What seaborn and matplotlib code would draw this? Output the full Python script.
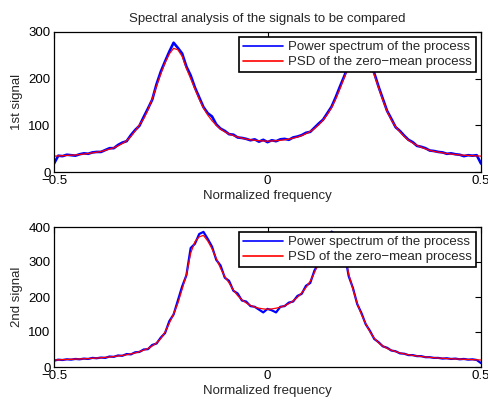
import numpy as np
import pandas as pd
import matplotlib
matplotlib.use("Agg")
import matplotlib.pyplot as plt
import seaborn as sns

# ---------------- data ----------------
freq = np.round(np.linspace(-0.5, 0.5, 101), 2)

psd1 = [34, 34.5, 35, 35.5, 36, 36.5, 37.5, 38.5, 39.5, 41,
        42.5, 44, 46.5, 49, 52, 56, 61, 67, 76, 88,
        101, 114, 133, 157, 184, 210, 234, 253, 265, 262,
        248, 222, 200, 178, 156, 137, 122, 110, 100, 92,
        86, 81.5, 78, 75, 72.5, 70.5, 69, 68, 67, 66.5,
        66,
        66.5, 67, 68, 69, 70.5, 72.5, 75, 78, 82, 87,
        93, 101, 111, 123, 138, 157, 179, 203, 226, 250,
        263, 263, 250, 230, 208, 181, 154, 130, 111, 97,
        86, 76, 68, 62, 57, 53, 49.5, 46.5, 44, 42.5,
        41, 39.5, 38.5, 37.5, 36.5, 36, 35.5, 35, 34.5, 34]

spec1 = [18, 35, 34, 37, 36, 35, 38, 40, 39, 42,
         43, 43, 47, 51, 51, 58, 63, 66, 79, 90,
         99, 118, 136, 155, 188, 215, 237, 258, 277, 266,
         254, 226, 207, 181, 160, 139, 126, 119, 102, 93,
         88, 81, 80, 74, 73, 71, 68, 70, 65, 69,
         64,
         68, 66, 70, 71, 69, 74, 76, 79, 84, 86,
         95, 104, 112, 126, 140, 161, 184, 206, 230, 254,
         270, 268, 254, 233, 212, 183, 157, 131, 114, 96,
         88, 78, 69, 64, 56, 54, 51, 46, 45, 43,
         42, 39, 40, 38, 37, 34, 36, 35, 36, 18]

psd2 = [20, 20.5, 21, 21.5, 22, 22.5, 23, 23.5, 24, 25,
        25.5, 26.5, 27.5, 28.5, 30, 31.5, 33, 35, 37.5, 40,
        44, 48, 53, 60, 69, 81, 100, 125, 152, 182,
        222, 264, 325, 358, 372, 376, 360, 338, 310, 282,
        258, 240, 220, 204, 192, 183, 176, 171, 168, 166,
        165,
        166, 168, 171, 175, 181, 189, 199, 212, 227, 245,
        270, 300, 333, 358, 374, 374, 357, 325, 266, 222,
        182, 150, 124, 100, 82, 69, 60, 53, 48, 44,
        40, 37.5, 35, 33, 31.5, 30, 28.5, 27.5, 26.5, 25.5,
        25, 24, 23.5, 23, 22.5, 22, 21.5, 21, 20.5, 20]

spec2 = [18, 21, 20, 22, 21, 23, 22, 24, 23, 26,
         25, 27, 26, 30, 29, 33, 32, 37, 36, 42,
         43, 50, 51, 63, 67, 84, 97, 131, 150, 190,
         230, 262, 340, 352, 380, 386, 366, 344, 306, 290,
         255, 246, 218, 210, 190, 187, 174, 172, 164, 156,
         166,
         162, 156, 172, 174, 184, 187, 203, 209, 232, 240,
         276, 296, 338, 362, 387, 378, 352, 330, 260, 226,
         180, 154, 122, 103, 80, 71, 59, 55, 47, 45,
         39, 38, 34, 34, 31, 31, 28, 28, 26, 26,
         24, 25, 23, 24, 22, 23, 21, 22, 20, 11]

ylabels = ["1st signal", "2nd signal"]
yticks = [[0, 100, 200, 300], [0, 100, 200, 300, 400]]
ylims = [(0, 300), (0, 400)]
xticks = [-0.5, 0, 0.5]
xticklabels = ["\u22120.5", "0", "0.5"]
title = "Spectral analysis of the signals to be compared"
xlabel = "Normalized frequency"
lab_spec = "Power spectrum of the process"
lab_psd = "PSD of the zero\u2212mean process"

# ---------------- style ----------------
sns.set_style("white")
plt.rcParams["font.family"] = ["Liberation Sans", "DejaVu Sans"]
plt.rcParams["font.size"] = 9.5

fig = plt.figure(figsize=(4.88, 4.00), dpi=100)
ax1 = fig.add_axes([0.1107, 0.570, 0.875, 0.350])
ax2 = fig.add_axes([0.1107, 0.0825, 0.875, 0.350])

panels = [(ax1, spec1, psd1, 1.9), (ax2, spec2, psd2, 1.6)]
for i, (ax, spec, psd, blw) in enumerate(panels):
    df = pd.DataFrame({"f": freq, "spec": spec, "psd": psd})
    sns.lineplot(data=df, x="f", y="spec", ax=ax, color="#0000ff",
                 linewidth=blw, label=lab_spec)
    sns.lineplot(data=df, x="f", y="psd", ax=ax, color="#ff0000",
                 linewidth=0.9, label=lab_psd)
    ax.set_xlim(-0.5, 0.5)
    ax.set_ylim(*ylims[i])
    ax.set_xticks(xticks)
    ax.set_xticklabels(xticklabels)
    ax.set_yticks(yticks[i])
    ax.set_xlabel(xlabel, fontsize=9.5, labelpad=2)
    ax.set_ylabel(ylabels[i], fontsize=9.5, labelpad=4)
    ax.tick_params(direction="in", length=4, width=0.8, top=True, right=True,
                   labelsize=9.5, pad=2.5, colors="black")
    for s in ax.spines.values():
        s.set_visible(True)
        s.set_color("black")
        s.set_linewidth(0.9)
    leg = ax.legend(loc="upper right", fontsize=9.5, frameon=True,
                    fancybox=False, framealpha=1, edgecolor="black",
                    borderaxespad=0.4, borderpad=0.3, labelspacing=0.2,
                    handlelength=3.0, handletextpad=0.4)
    leg.get_frame().set_linewidth(1.2)
    for h in leg.get_lines():
        h.set_linewidth(1.2)
    leg.set_zorder(10)

ax1.set_title(title, fontsize=9.5, pad=7)

fig.savefig("out.png", dpi=100, facecolor="white")
